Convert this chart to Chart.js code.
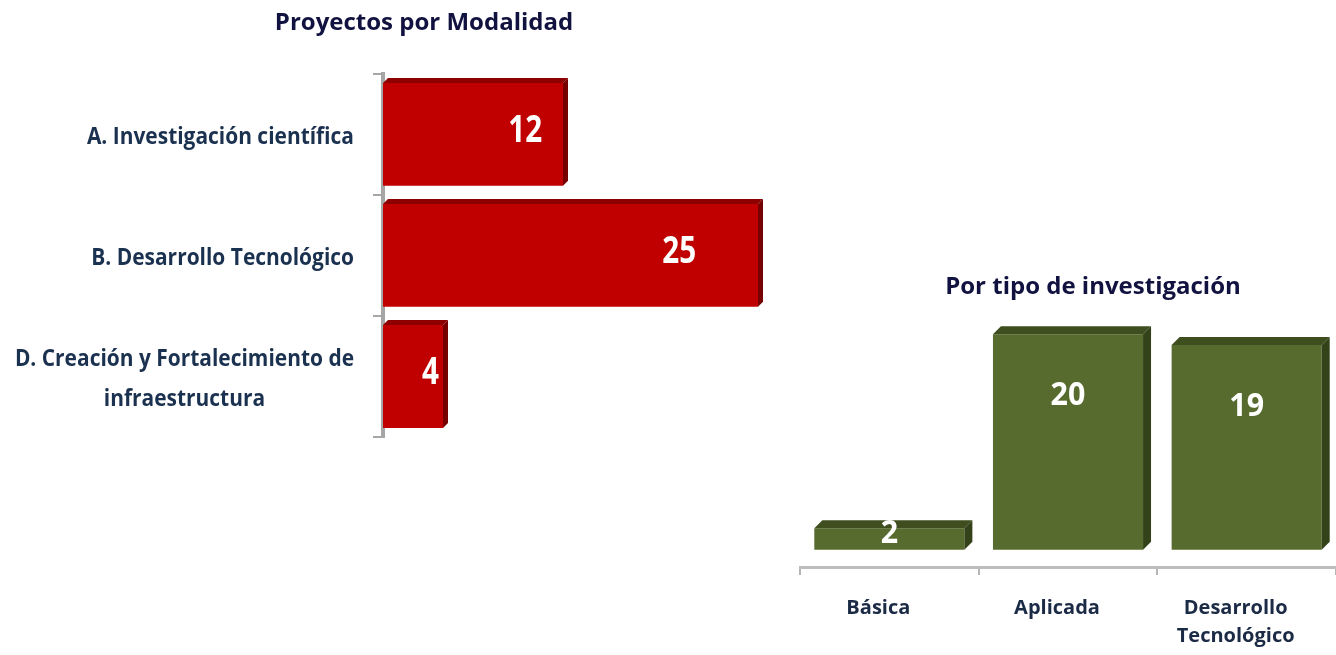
<!DOCTYPE html>
<html>
<head>
<meta charset="utf-8">
<script src="https://cdn.jsdelivr.net/npm/chart.js@4.4.1/dist/chart.umd.min.js"></script>
<style>
  html, body { margin: 0; padding: 0; background: #fff; overflow: hidden; }
  body { width: 1336px; height: 655px; position: relative; }
  #modal-box { position: absolute; left: 0; top: 0; width: 848px; height: 445px; }
  #tipo-box { position: absolute; left: 760px; top: 262px; width: 666px; height: 393px; }
</style>
</head>
<body>
<div id="modal-box"><canvas id="modal-chart"></canvas></div>
<div id="tipo-box"><canvas id="tipo-chart"></canvas></div>
<script>
// Data
const modalLabels = [
    'A. Investigación científica',
    'B. Desarrollo Tecnológico',
    ['D. Creación y Fortalecimiento de', 'infraestructura']
];
const modalValues = [12, 25, 4];

const tipoLabels = ['Básica', 'Aplicada', ['Desarrollo', 'Tecnológico']];
const tipoValues = [2, 20, 19];

// draw text squeezed horizontally (the original uses a narrow font)
function squeezedText(ctx, s, x, y, sx) {
    ctx.save();
    ctx.translate(x, y);
    ctx.scale(sx, 1);
    ctx.fillText(s, 0, 0);
    ctx.restore();
}

// fake 3D box: top face + right side, and the white value inside the bar
const box3d = {
    id: 'box3d',
    afterDatasetsDraw(chart, args, opts) {
        const ctx = chart.ctx;
        const d = opts.depth;
        chart.getDatasetMeta(0).data.forEach((bar, i) => {
            const p = bar.getProps(['x', 'y', 'base', 'width', 'height'], true);
            let l, r, t, b;
            if (opts.horizontal) {
                l = p.base; r = p.x; t = p.y - p.height / 2; b = p.y + p.height / 2;
            } else {
                l = p.x - p.width / 2; r = p.x + p.width / 2; t = p.y; b = p.base;
            }
            ctx.save();
            ctx.fillStyle = opts.topColor;
            ctx.beginPath();
            ctx.moveTo(l, t); ctx.lineTo(l + d, t - d); ctx.lineTo(r + d, t - d); ctx.lineTo(r, t);
            ctx.closePath(); ctx.fill();
            ctx.fillStyle = opts.sideColor;
            ctx.beginPath();
            ctx.moveTo(r, t); ctx.lineTo(r + d, t - d); ctx.lineTo(r + d, b - d); ctx.lineTo(r, b);
            ctx.closePath(); ctx.fill();

            ctx.fillStyle = '#ffffff';
            ctx.font = opts.font;
            ctx.textAlign = 'center';
            ctx.textBaseline = 'middle';
            const value = String(chart.data.datasets[0].data[i]);
            if (opts.horizontal) {
                squeezedText(ctx, value, l + 0.79 * (r - l), (t + b) / 2 - 3, opts.squeeze);
            } else {
                squeezedText(ctx, value, (l + r) / 2, Math.min(t + 62, (t + b) / 2 - 5), opts.squeeze);
            }
            ctx.restore();
        });
    }
};

// category labels left of the axis: block right-aligned, lines centred in the block
const sideLabels = {
    id: 'sideLabels',
    afterDraw(chart, args, opts) {
        const ctx = chart.ctx;
        const yScale = chart.scales.y;
        ctx.save();
        ctx.font = opts.font;
        ctx.fillStyle = opts.color;
        ctx.textAlign = 'center';
        ctx.textBaseline = 'middle';
        chart.data.labels.forEach((lab, i) => {
            const lines = [].concat(lab);
            const w = Math.max(...lines.map(s => ctx.measureText(s).width)) * opts.squeeze;
            const cx = chart.chartArea.left - opts.gap - w / 2;
            const cy = yScale.getPixelForValue(i) + opts.dy;
            lines.forEach((s, j) => {
                squeezedText(ctx, s, cx, cy + (j - (lines.length - 1) / 2) * opts.lineHeight, opts.squeeze);
            });
        });
        ctx.restore();
    }
};

// ---------------- Proyectos por Modalidad ----------------
new Chart(document.getElementById('modal-chart'), {
    type: 'bar',
    data: {
        labels: modalLabels,
        datasets: [{
            data: modalValues,
            backgroundColor: '#c00000',
            borderWidth: 0,
            barPercentage: 0.85,
            categoryPercentage: 1
        }]
    },
    options: {
        indexAxis: 'y',
        responsive: true,
        maintainAspectRatio: false,
        animation: false,
        layout: { padding: { top: 0, bottom: 8, left: 0, right: 0 } },
        scales: {
            x: { display: false, min: 0, max: 31 },
            y: {
                offset: true,
                ticks: { display: false },
                grid: { display: true, drawOnChartArea: false, offset: true, tickLength: 10, color: '#a6a6a6', lineWidth: 2 },
                border: { color: '#a6a6a6', width: 4 },
                afterFit(s) { s.width = 383; }
            }
        },
        plugins: {
            legend: { display: false },
            tooltip: { enabled: false },
            title: {
                display: true,
                text: 'Proyectos por Modalidad',
                color: '#11123f',
                font: { family: 'Open Sans', size: 24, weight: 'bold' },
                padding: { top: 9, bottom: 36 }
            },
            box3d: { horizontal: true, depth: 5, topColor: '#8e0000', sideColor: '#760000', font: 'bold 38px "Open Sans", sans-serif', squeeze: 0.78 },
            sideLabels: { font: 'bold 23px "Open Sans", sans-serif', color: '#1b3150', gap: 29, lineHeight: 40, squeeze: 0.91, dy: 3 }
        }
    },
    plugins: [box3d, sideLabels]
});

// ---------------- Por tipo de investigación ----------------
new Chart(document.getElementById('tipo-chart'), {
    type: 'bar',
    data: {
        labels: tipoLabels,
        datasets: [{
            data: tipoValues,
            backgroundColor: '#586b2f',
            borderWidth: 0,
            barPercentage: 0.84,
            categoryPercentage: 1
        }]
    },
    options: {
        responsive: true,
        maintainAspectRatio: false,
        animation: false,
        layout: { padding: 0 },
        scales: {
            x: {
                offset: true,
                grid: { display: true, drawOnChartArea: false, offset: true, tickLength: 8, color: '#b5b5b5', lineWidth: 2 },
                border: { color: '#bdbdbd', width: 3 },
                ticks: {
                    color: '#1b2a45',
                    padding: 19,
                    labelOffset: -11,
                    maxRotation: 0,
                    font: { family: 'Open Sans', size: 20, weight: 'bold', lineHeight: 1.4 }
                },
                afterFit(s) { s.height = 88; }
            },
            y: {
                min: -1.6,
                max: 22,
                ticks: { display: false },
                grid: { display: false },
                border: { display: false },
                afterFit(s) { s.width = 40; }
            },
            y2: {
                type: 'linear',
                position: 'right',
                ticks: { display: false },
                grid: { display: false },
                border: { display: false },
                afterFit(s) { s.width = 90; }
            }
        },
        plugins: {
            legend: { display: false },
            tooltip: { enabled: false },
            title: {
                display: true,
                text: 'Por tipo de investigación',
                color: '#11123f',
                font: { family: 'Open Sans', size: 24, weight: 'bold' },
                padding: { top: 11, bottom: 11 }
            },
            box3d: { horizontal: false, depth: 8, topColor: '#3e4e1f', sideColor: '#34421a', font: 'bold 32px "Open Sans", sans-serif', squeeze: 0.95 }
        }
    },
    plugins: [box3d]
});
</script>
</body>
</html>
